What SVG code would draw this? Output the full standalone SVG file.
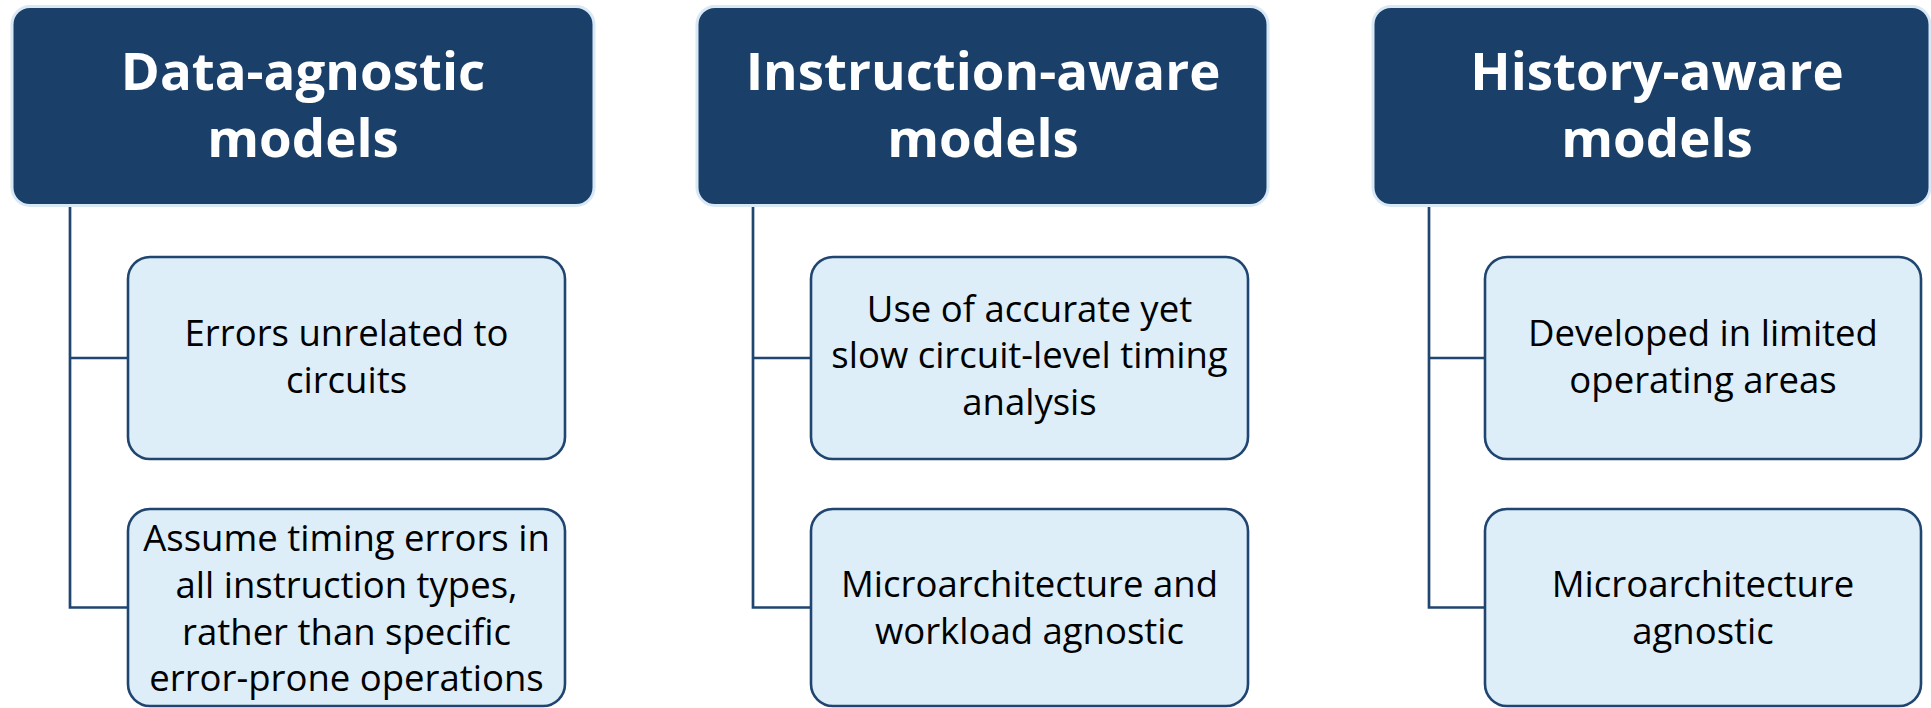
<svg xmlns="http://www.w3.org/2000/svg" width="1931" height="708" viewBox="0 0 1931 708">
  <style>
    .head rect { fill: #1A406A; stroke: #D8E8F5; stroke-width: 3; }
    .head text { fill: #FFFFFF; font-family: "Open Sans", Lato, "Liberation Sans", sans-serif; font-weight: bold; font-size: 52.8px; text-anchor: middle; }
    .item rect { fill: #DDEEF9; stroke: #1F4570; stroke-width: 2.6; }
    .item text { fill: #000000; font-family: "Open Sans", Lato, "Liberation Sans", sans-serif; font-size: 36.5px; text-anchor: middle; }
    .links path { fill: none; stroke: #1F4570; stroke-width: 2.7; }
  </style>
  <rect width="1931" height="708" fill="#FFFFFF"/>

  <!-- tree connectors -->
  <g id="connectors" class="links">
    <path d="M70,206 V607.5 H128 M70,358 H128"/>
    <path d="M753,206 V607.5 H811 M753,358 H811"/>
    <path d="M1429,206 V607.5 H1485 M1429,358 H1485"/>
  </g>

  <!-- column 1 -->
  <g id="data-agnostic" class="head">
    <rect x="12" y="6.5" width="582" height="199" rx="18"/>
    <text x="303" y="90">Data-agnostic</text>
    <text x="303" y="157">models</text>
  </g>
  <g id="da-errors" class="item">
    <rect x="128" y="257" width="437" height="202" rx="22"/>
    <text x="346.5" y="346">Errors unrelated to</text>
    <text x="346.5" y="393">circuits</text>
  </g>
  <g id="da-timing" class="item">
    <rect x="128" y="509" width="437" height="197" rx="22"/>
    <text x="346.5" y="551">Assume timing errors in</text>
    <text x="346.5" y="598">all instruction types,</text>
    <text x="346.5" y="645">rather than specific</text>
    <text x="346.5" y="691">error-prone operations</text>
  </g>

  <!-- column 2 -->
  <g id="instruction-aware" class="head">
    <rect x="697" y="6.5" width="571" height="199" rx="18"/>
    <text x="983" y="90">Instruction-aware</text>
    <text x="983" y="157">models</text>
  </g>
  <g id="ia-analysis" class="item">
    <rect x="811" y="257" width="437" height="202" rx="22"/>
    <text x="1029.5" y="322">Use of accurate yet</text>
    <text x="1029.5" y="368">slow circuit-level timing</text>
    <text x="1029.5" y="415">analysis</text>
  </g>
  <g id="ia-agnostic" class="item">
    <rect x="811" y="509" width="437" height="197" rx="22"/>
    <text x="1029.5" y="597">Microarchitecture and</text>
    <text x="1029.5" y="644">workload agnostic</text>
  </g>

  <!-- column 3 -->
  <g id="history-aware" class="head">
    <rect x="1373" y="6.5" width="557" height="199" rx="18"/>
    <text x="1657" y="90">History-aware</text>
    <text x="1657" y="157">models</text>
  </g>
  <g id="ha-limited" class="item">
    <rect x="1485" y="257" width="436" height="202" rx="22"/>
    <text x="1703" y="346">Developed in limited</text>
    <text x="1703" y="393">operating areas</text>
  </g>
  <g id="ha-agnostic" class="item">
    <rect x="1485" y="509" width="436" height="197" rx="22"/>
    <text x="1703" y="597">Microarchitecture</text>
    <text x="1703" y="644">agnostic</text>
  </g>
</svg>
